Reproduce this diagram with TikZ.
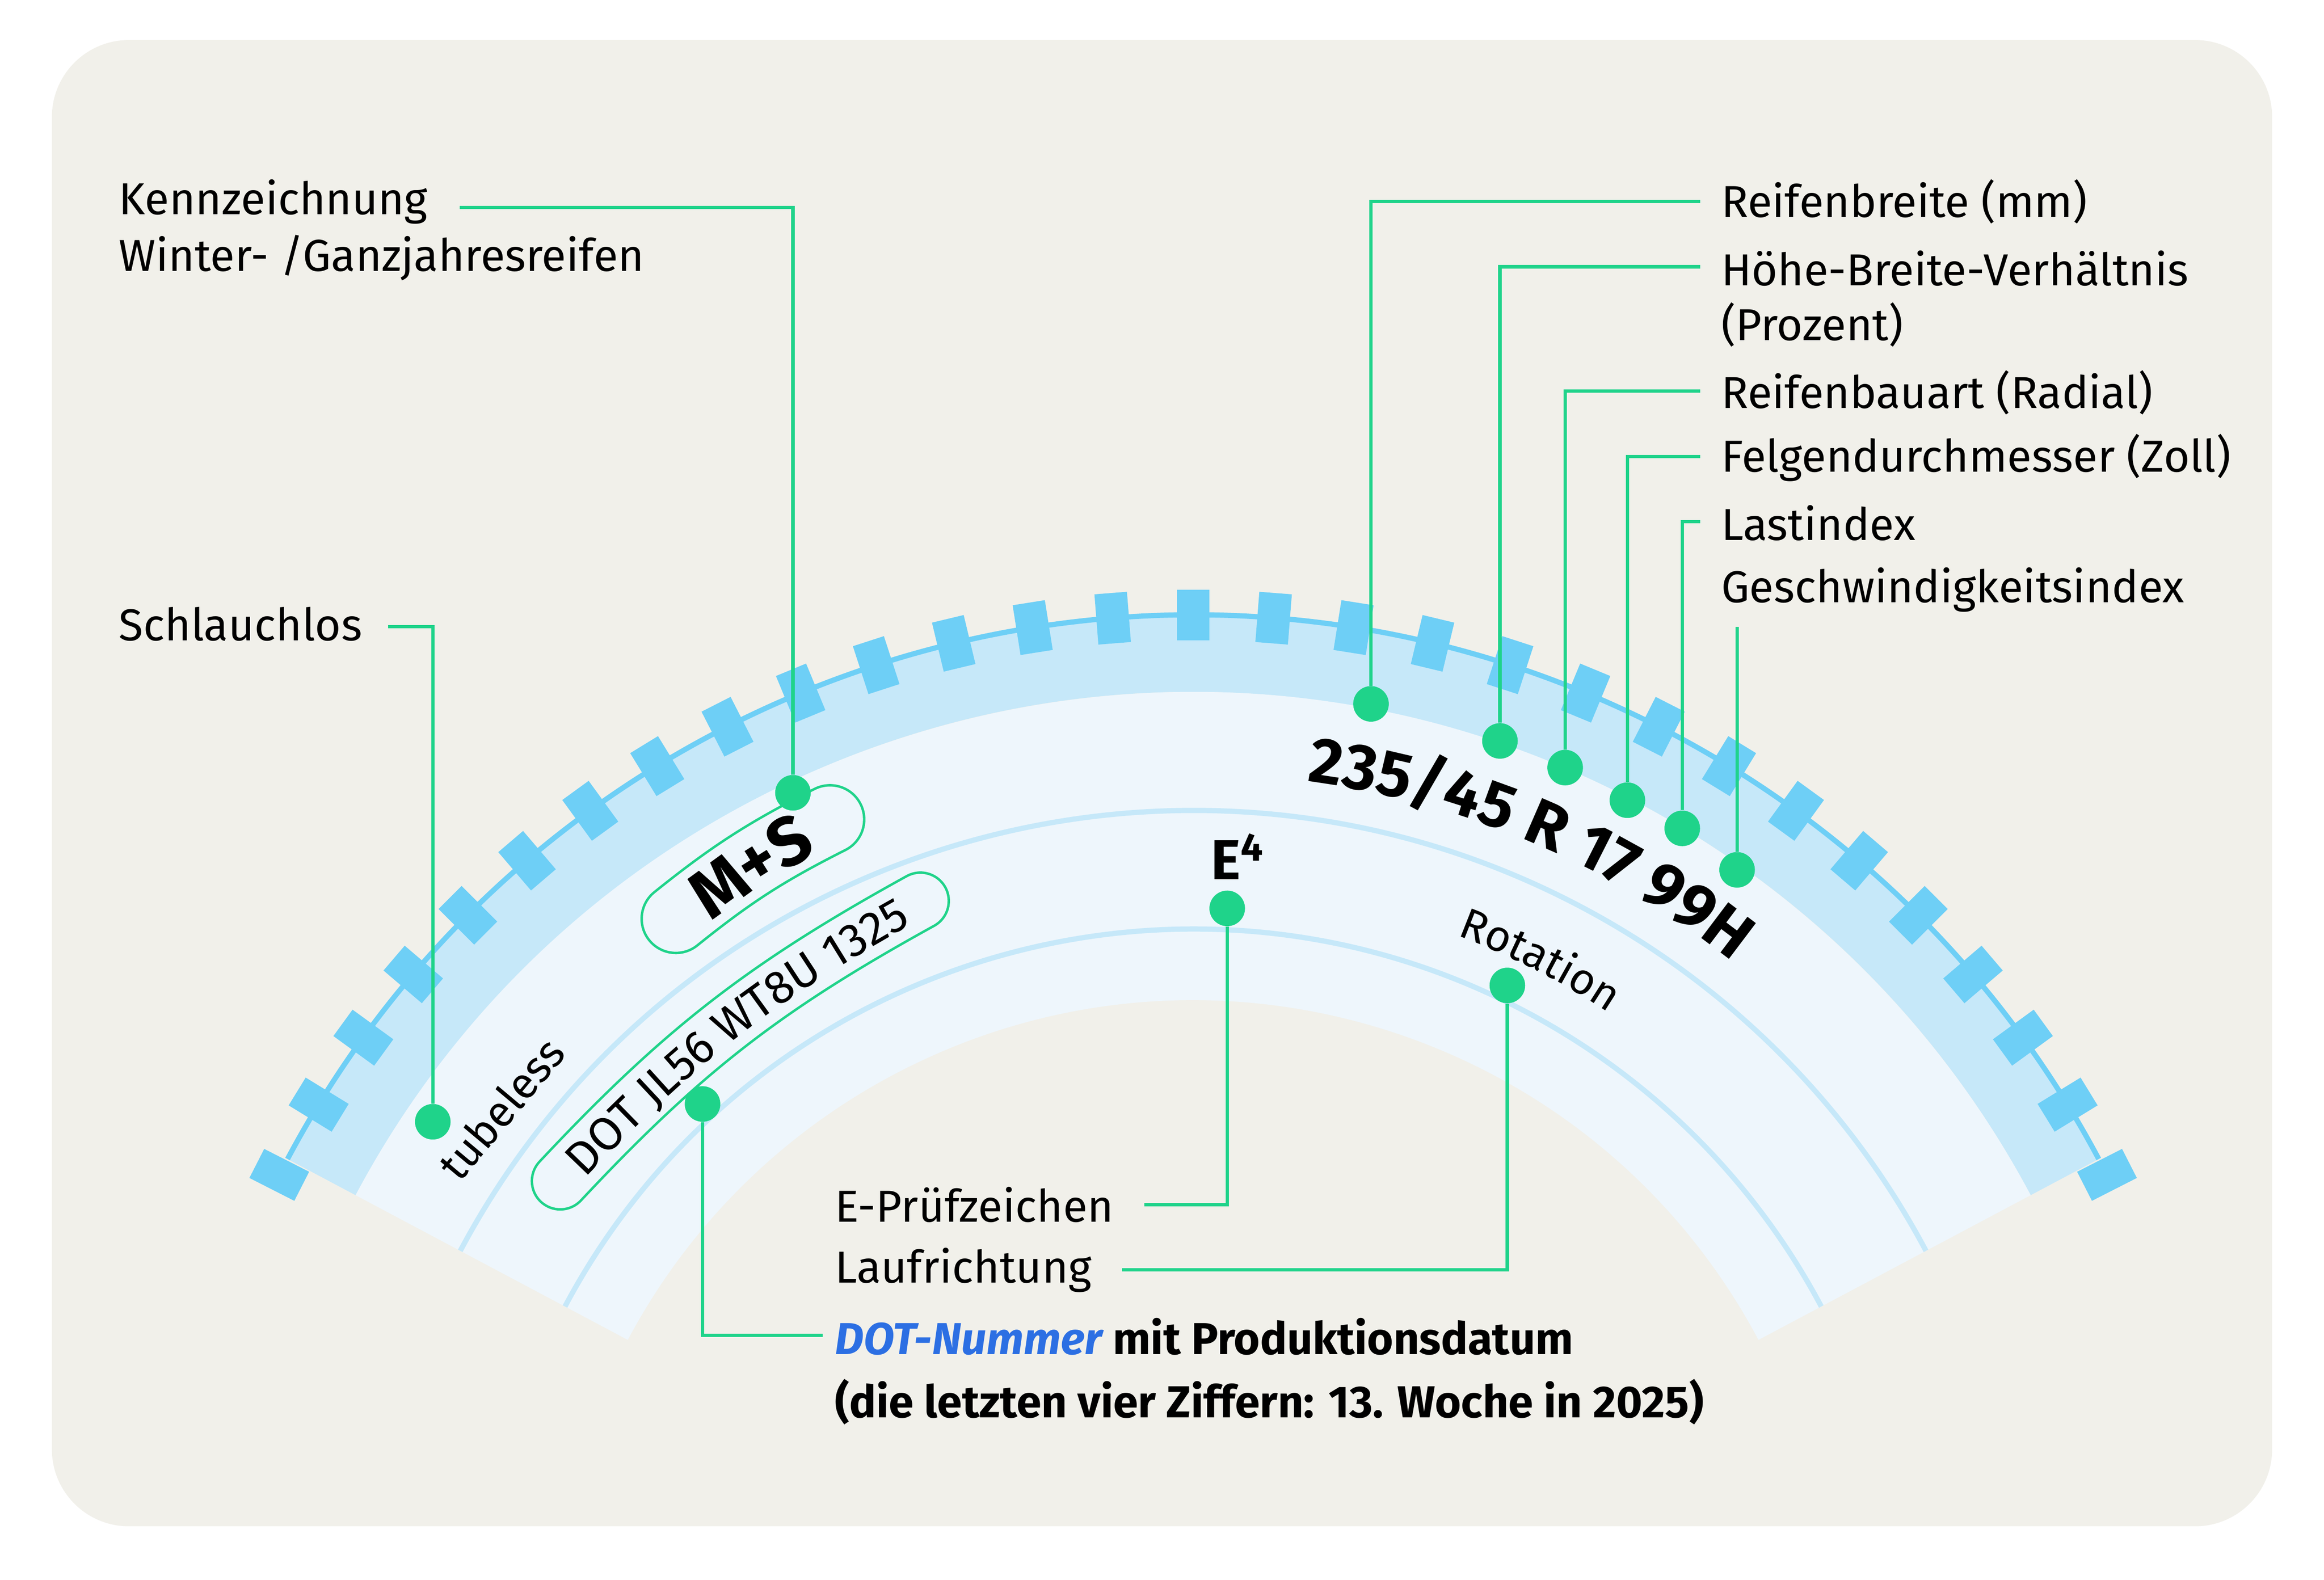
\documentclass[tikz,border=0pt]{standalone}
\usepackage{fontspec}
\setmainfont{Fira Sans}
\usetikzlibrary{decorations.text}
\begin{document}
\begin{tikzpicture}[x=0.025cm,y=-0.025cm,
  lbl/.style={anchor=west,font=\fontsize{21.5}{24}\selectfont,text=black,inner sep=0},
  lead/.style={draw=grn,line width=1.6pt},
  dot/.style={circle,fill=grn,inner sep=0,minimum size=0.6cm},
  blk/.style={fill=treadc,inner sep=0,minimum width=0.55cm,minimum height=0.85cm},
  curvtext/.style={decorate,decoration={text along path,text align=center,raise=#1,text format delimiters={|}{|}}}]
\definecolor{grn}{HTML}{1FD38A}
\definecolor{bg}{HTML}{F1F0EA}
\definecolor{band}{HTML}{C6E8F9}
\definecolor{side}{HTML}{EEF6FC}
\definecolor{treadc}{HTML}{6ECFF6}
\definecolor{dotblue}{HTML}{2C6FE3}
\useasboundingbox (0,0) rectangle (1568,1066);
\fill[bg,rounded corners=1.3cm] (35,27) rectangle (1533,1030);
\begin{scope}[shift={(805,1107)},x=0.025cm,y=0.025cm]
 \fill[band] (152:692) arc (152:28:692) -- (28:640) arc (28:152:640) -- cycle;
 \fill[side] (152:640) arc (152:28:640) -- (28:432) arc (28:152:432) -- cycle;
 \draw[band,line width=2.5pt] (152:560) arc (152:28:560);
 \draw[band,line width=2.5pt] (152:480) arc (152:28:480);
 \draw[treadc,line width=2.5pt] (152:692) arc (152:28:692);
 \foreach \a in {153,148.5,...,26} \node[blk,rotate=\a-90] at (\a:692) {};
 % curved tyre texts
 \path[curvtext=0pt,decoration={text={|\bfseries\fontsize{31}{31}\selectfont|235/45 R 17 99H}}] (86:585) arc (86:48:585);
 \path[curvtext=0pt,decoration={text={|\fontsize{21}{21}\selectfont|Rotation}}] (74:508) arc (74:52:508);
\end{scope}
% M+S box
\coordinate (m1) at (456,620); \coordinate (m2) at (560,553);
\draw[grn,line width=34pt,line cap=round] (m1) to[bend left=6] (m2);
\draw[side,line width=31.6pt,line cap=round] (m1) to[bend left=6] (m2);
\path[curvtext=-11.5pt,decoration={text={|\bfseries\fontsize{33}{33}\selectfont|M+S}}] (m1) to[bend left=6] (m2);
% DOT box
\coordinate (o1) at (378,797); \coordinate (o2) at (621,608);
\draw[grn,line width=28.4pt,line cap=round] (o1) to[bend left=9] (o2);
\draw[side,line width=26pt,line cap=round] (o1) to[bend left=9] (o2);
\path[curvtext=-7.8pt,decoration={text={|\fontsize{22.5}{22.5}\selectfont|DOT JL56 WT8U 1325}}] (o1) to[bend left=9] (o2);
\node[rotate=50,font=\fontsize{21}{22}\selectfont] (tub) at (338,748) {tubeless};
\node[font=\bfseries\fontsize{27}{28}\selectfont] (e4) at (835,578) {E\textsuperscript{4}};
% dots
\node[dot] (d1) at (535,535) {};
\node[dot] (d2) at (292,757) {};
\node[dot] (d3) at (474,745) {};
\node[dot] (d4) at (828,613) {};
\node[dot] (d5) at (1017,665) {};
\node[dot] (r1) at (925,475) {};
\node[dot] (r2) at (1012,500) {};
\node[dot] (r3) at (1056,518) {};
\node[dot] (r4) at (1098,540) {};
\node[dot] (r5) at (1135,559) {};
\node[dot] (r6) at (1172,587) {};
% labels
\node[lbl] (lk) at (80,136) {Kennzeichnung};
\node[lbl] at (80,174) {Winter- /Ganzjahresreifen};
\node[lbl] (ls) at (80,421) {Schlauchlos};
\node[lbl] (l1) at (1161,136) {Reifenbreite (mm)};
\node[lbl] (l2) at (1161,181) {Höhe-Breite-Verhältnis};
\node[lbl] at (1161,219) {(Prozent)};
\node[lbl] (l3) at (1161,265) {Reifenbauart (Radial)};
\node[lbl] (l4) at (1161,309) {Felgendurchmesser (Zoll)};
\node[lbl] (l5) at (1161,353) {Lastindex};
\node[lbl] (l6) at (1161,398) {Geschwindigkeitsindex};
\node[lbl] (le) at (563,813) {E-Prüfzeichen};
\node[lbl] (ll) at (563,857) {Laufrichtung};
\node[lbl] (ld) at (563,902) {\bfseries\textcolor{dotblue}{\itshape DOT-Nummer} mit Produktionsdatum};
\node[lbl] at (563,946) {\bfseries (die letzten vier Ziffern: 13. Woche in 2025)};
% coordinates for leaders
\coordinate (k0) at (310,140); \coordinate (s0) at (262,423);
\coordinate (a1) at (1147,136); \coordinate (a2) at (1147,180);
\coordinate (a3) at (1147,264); \coordinate (a4) at (1147,308);
\coordinate (a5) at (1147,352); \coordinate (a6) at (1172,423);
\coordinate (e0) at (772,813); \coordinate (l0) at (757,857);
\coordinate (q0) at (555,901);
\draw[lead] (k0) -| (d1);
\draw[lead] (s0) -| (d2);
\draw[lead] (a1) -| (r1);
\draw[lead] (a2) -| (r2);
\draw[lead] (a3) -| (r3);
\draw[lead] (a4) -| (r4);
\draw[lead] (a5) -| (r5);
\draw[lead] (a6) -- (r6);
\draw[lead] (e0) -| (d4);
\draw[lead] (l0) -| (d5);
\draw[lead] (q0) -| (d3);
\end{tikzpicture}
\end{document}
